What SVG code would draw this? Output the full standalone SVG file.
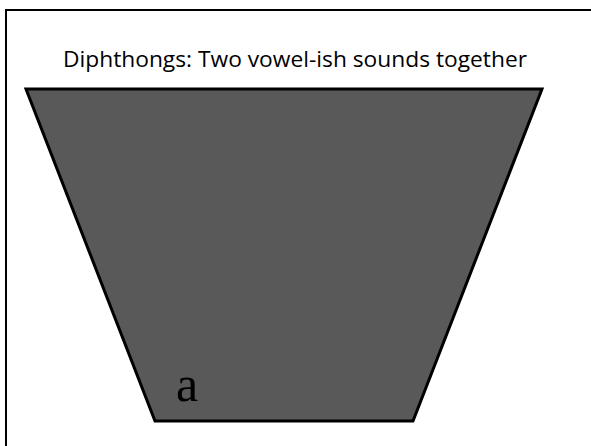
<svg xmlns="http://www.w3.org/2000/svg" width="591" height="446" viewBox="0 0 591 446">
<style>
.title{font-family:"Open Sans","Liberation Sans",sans-serif;font-size:21px;fill:#000}
.lbl{font-family:"Liberation Serif","Times New Roman",serif;font-size:50px;fill:#000}
</style>
<rect width="591" height="446" fill="#fff"/>
<path d="M6 446 V10 H591" fill="none" stroke="#000" stroke-width="2"/>
<text class="title" x="63" y="67" textLength="464" lengthAdjust="spacingAndGlyphs">Diphthongs: Two vowel-ish sounds together</text>
<g id="vowel-space">
<polygon points="26,89 542,89 413,421 155,421" fill="#595959" stroke="#000" stroke-width="3" stroke-linejoin="miter"/>
<text class="lbl" x="176" y="401">a</text>
</g>
</svg>
